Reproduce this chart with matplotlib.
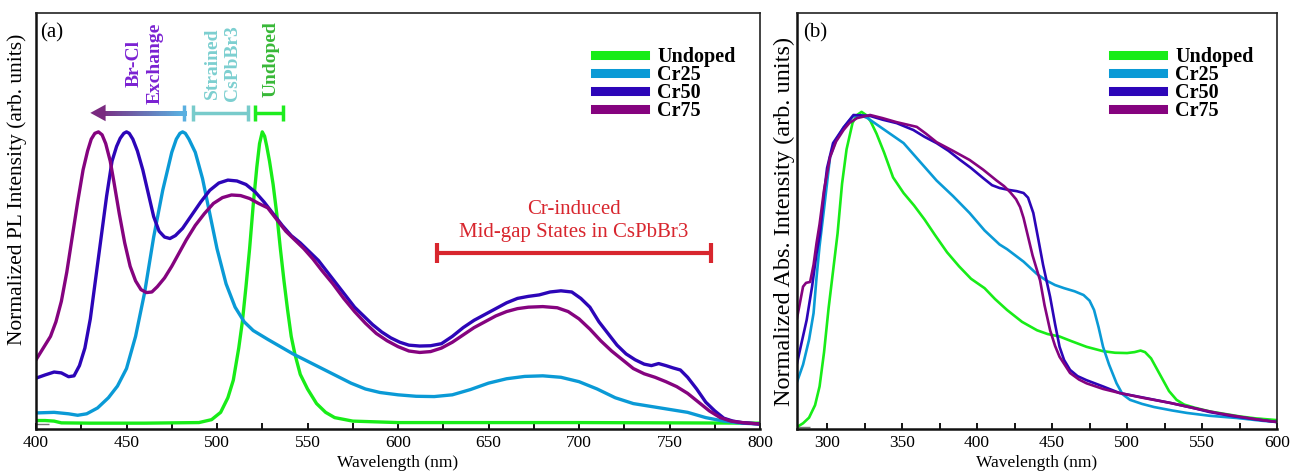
import numpy as np
import matplotlib
matplotlib.use("Agg")
import matplotlib.pyplot as plt
from matplotlib.collections import LineCollection
from matplotlib.colors import LinearSegmentedColormap
from matplotlib.ticker import MultipleLocator

plt.rcParams.update({
    "font.family": "serif",
    "font.serif": ["Liberation Serif", "DejaVu Serif"],
    "font.size": 12.5,
    "xtick.direction": "in",
    "ytick.direction": "in",
})

labels = ["Undoped", "Cr25", "Cr50", "Cr75"]
colors = ["#18EC18", "#0A9AD6", "#2C05B8", "#85037F"]

# ---- (a) PL spectra ----
pl_undoped_x = [400, 405, 410, 414, 430, 460, 490, 497, 502, 506, 509, 512, 514, 516, 518, 520, 522, 523.5,
                525, 526.3, 527.5, 529, 531, 533, 535, 537, 539, 541, 543, 546, 550, 555, 560, 565, 575, 600,
                650, 700, 750, 800]
pl_undoped_y = [0.012, 0.012, 0.01, 0.004, 0.003, 0.003, 0.005, 0.015, 0.04, 0.09, 0.15, 0.26, 0.35, 0.47,
                0.60, 0.75, 0.88, 0.96, 1.0, 0.985, 0.95, 0.9, 0.82, 0.72, 0.6, 0.49, 0.39, 0.3, 0.24, 0.17,
                0.12, 0.07, 0.04, 0.022, 0.01, 0.005, 0.005, 0.005, 0.004, 0.003]

pl_cr25_x = [400, 410, 418, 423, 428, 434, 440, 445, 450, 455, 460, 465, 470, 475, 477.5, 479.5, 481,
             482.5, 484.5, 488, 492, 496, 500, 505, 510, 515, 520, 528, 535, 542, 550, 558, 566, 574, 582,
             590, 600, 610, 620, 630, 640, 650, 660, 670, 680, 690, 700, 710, 720, 730, 740, 750, 760, 770,
             780, 790, 800]
pl_cr25_y = [0.038, 0.04, 0.035, 0.03, 0.035, 0.055, 0.09, 0.13, 0.19, 0.3, 0.45, 0.64, 0.8, 0.93, 0.975,
             0.995, 1.0, 0.995, 0.975, 0.93, 0.84, 0.72, 0.6, 0.48, 0.4, 0.35, 0.32, 0.29, 0.265, 0.24, 0.215,
             0.19, 0.165, 0.14, 0.12, 0.108, 0.1, 0.095, 0.094, 0.1, 0.118, 0.14, 0.155, 0.163, 0.165, 0.16,
             0.145, 0.12, 0.09, 0.07, 0.06, 0.05, 0.04, 0.022, 0.01, 0.003, 0.0]

pl_cr50_x = [400, 405, 410, 414, 418, 421, 424, 427, 430, 433, 436, 439, 442, 444.5, 446.5, 448.5, 450,
             451.5, 453.5, 456, 459, 462, 465, 468, 471, 474, 477, 481, 486, 491, 496, 501, 506, 511, 516,
             521, 526, 531, 536, 541, 546, 551, 556, 561, 566, 571, 576, 581, 586, 591, 596, 601, 606, 612,
             618, 624, 630, 636, 642, 648, 654, 660, 666, 672, 678, 684, 690, 696, 701, 706, 711, 716, 721,
             726, 731, 736, 740, 744, 748, 752, 756, 760, 765, 770, 775, 780, 785, 790, 800]
pl_cr50_y = [0.157, 0.168, 0.178, 0.175, 0.162, 0.165, 0.2, 0.26, 0.36, 0.5, 0.64, 0.78, 0.9, 0.95, 0.978,
             0.995, 1.0, 0.995, 0.975, 0.935, 0.87, 0.79, 0.71, 0.66, 0.64, 0.635, 0.645, 0.67, 0.715, 0.76,
             0.8, 0.825, 0.835, 0.832, 0.82, 0.795, 0.76, 0.72, 0.68, 0.645, 0.62, 0.59, 0.56, 0.52, 0.48,
             0.44, 0.4, 0.37, 0.34, 0.315, 0.295, 0.28, 0.27, 0.267, 0.268, 0.275, 0.3, 0.33, 0.355, 0.375,
             0.395, 0.415, 0.43, 0.437, 0.442, 0.452, 0.456, 0.452, 0.43, 0.4, 0.35, 0.31, 0.27, 0.24, 0.22,
             0.205, 0.2, 0.207, 0.2, 0.192, 0.185, 0.16, 0.12, 0.075, 0.045, 0.02, 0.01, 0.005, 0.0]

pl_cr75_x = [400, 404, 408, 411, 414, 417, 420, 423, 426, 428.5, 430.5, 432.5, 434.5, 436.5, 438.5, 441,
             443, 446, 449, 452, 455, 458, 461, 464, 467, 471, 475, 479, 483, 488, 493, 498, 503, 508, 513,
             518, 523, 528, 533, 538, 543, 548, 553, 558, 564, 570, 576, 582, 588, 594, 600, 606, 612, 618,
             624, 630, 636, 642, 648, 654, 660, 666, 672, 680, 688, 694, 700, 706, 712, 718, 724, 730, 736,
             742, 748, 754, 760, 766, 772, 778, 784, 790, 800]
pl_cr75_y = [0.22, 0.26, 0.3, 0.35, 0.42, 0.52, 0.64, 0.76, 0.87, 0.935, 0.975, 0.995, 1.0, 0.99, 0.96, 0.9,
             0.83, 0.72, 0.62, 0.54, 0.49, 0.46, 0.45, 0.452, 0.47, 0.5, 0.54, 0.585, 0.63, 0.68, 0.72, 0.755,
             0.775, 0.784, 0.782, 0.772, 0.755, 0.74, 0.7, 0.66, 0.63, 0.6, 0.565, 0.525, 0.48, 0.43, 0.385,
             0.345, 0.31, 0.285, 0.265, 0.25, 0.245, 0.248, 0.26, 0.28, 0.305, 0.33, 0.35, 0.37, 0.385,
             0.395, 0.4, 0.402, 0.398, 0.385, 0.36, 0.325, 0.285, 0.25, 0.22, 0.19, 0.172, 0.16, 0.145,
             0.128, 0.105, 0.075, 0.045, 0.022, 0.01, 0.005, 0.0]

# ---- (b) absorption spectra ----
abs_undoped_x = [280, 284, 288, 292, 295, 298, 301, 304, 307, 310, 313, 317, 320, 323, 326, 329, 333, 338,
                 344, 351, 358, 365, 372, 380, 388, 396, 405, 412, 420, 430, 440, 447, 455, 463, 473, 484,
                 492, 500, 505, 509, 512, 516, 520, 524, 528, 533, 538, 545, 555, 565, 575, 585, 600]
abs_undoped_y = [0.0, 0.012, 0.03, 0.07, 0.13, 0.24, 0.38, 0.5, 0.62, 0.78, 0.89, 0.975, 1.0, 1.01, 1.0,
                 0.98, 0.94, 0.88, 0.8, 0.75, 0.71, 0.665, 0.615, 0.56, 0.515, 0.475, 0.445, 0.41, 0.375,
                 0.337, 0.31, 0.298, 0.29, 0.275, 0.257, 0.243, 0.238, 0.237, 0.24, 0.245, 0.24, 0.22, 0.185,
                 0.15, 0.115, 0.087, 0.072, 0.062, 0.05, 0.042, 0.034, 0.028, 0.022]

abs_cr25_x = [280, 284, 288, 291, 293, 295, 298, 302, 306, 311, 317, 322, 327, 333, 342, 351, 362, 373, 384,
              395, 405, 415, 420, 431, 440, 446, 452, 458, 465, 471, 475, 478, 481, 484, 488, 493, 497, 502,
              510, 518, 530, 540, 555, 573, 590, 600]
abs_cr25_y = [0.145, 0.2, 0.28, 0.365, 0.48, 0.58, 0.7, 0.865, 0.92, 0.96, 0.995, 1.0, 0.99, 0.97, 0.94,
              0.91, 0.85, 0.79, 0.74, 0.686, 0.63, 0.585, 0.57, 0.53, 0.49, 0.47, 0.455, 0.445, 0.435, 0.423,
              0.405, 0.375, 0.32, 0.257, 0.2, 0.14, 0.105, 0.087, 0.074, 0.064, 0.053, 0.045, 0.036, 0.029,
              0.02, 0.016]

abs_cr50_x = [280, 283, 286.4, 290, 293, 295.3, 298, 300, 304, 311, 317.6, 328.7, 337, 346.4, 357.5, 365,
              373, 381, 388.7, 396, 404, 410, 415, 421, 426.4, 431, 434, 437.5, 440.9, 444, 448.7, 452, 455,
              458, 462, 467, 473, 484, 495, 510, 529, 545, 555, 570, 585, 600]
abs_cr50_y = [0.205, 0.27, 0.343, 0.45, 0.557, 0.62, 0.75, 0.83, 0.91, 0.96, 1.0, 0.997, 0.985, 0.974, 0.952,
              0.93, 0.91, 0.885, 0.856, 0.83, 0.798, 0.775, 0.766, 0.76, 0.756, 0.75, 0.735, 0.686, 0.6, 0.52,
              0.417, 0.33, 0.257, 0.215, 0.183, 0.163, 0.15, 0.13, 0.109, 0.095, 0.077, 0.06, 0.048, 0.035,
              0.025, 0.016]

abs_cr75_x = [280, 282, 284, 286, 288.7, 291, 293, 295, 298, 302, 306, 311, 315, 320, 328.7, 337, 346.4,
              359.8, 366, 373, 384, 395, 404, 413, 418, 422, 426, 428.7, 431, 433, 437, 442, 445, 448.7, 452,
              455, 462, 468, 473, 484, 495, 510, 529, 545, 560, 575, 590, 600]
abs_cr75_y = [0.35, 0.4, 0.45, 0.462, 0.465, 0.52, 0.59, 0.65, 0.76, 0.865, 0.915, 0.952, 0.975, 0.99, 1.0,
              0.99, 0.977, 0.962, 0.94, 0.913, 0.885, 0.856, 0.825, 0.79, 0.772, 0.753, 0.73, 0.705, 0.67,
              0.63, 0.55, 0.47, 0.39, 0.31, 0.26, 0.225, 0.173, 0.152, 0.14, 0.122, 0.109, 0.094, 0.077, 0.06,
              0.045, 0.033, 0.022, 0.016]

pl_series = [(pl_undoped_x, pl_undoped_y), (pl_cr25_x, pl_cr25_y),
             (pl_cr50_x, pl_cr50_y), (pl_cr75_x, pl_cr75_y)]
abs_series = [(abs_undoped_x, abs_undoped_y), (abs_cr25_x, abs_cr25_y),
              (abs_cr50_x, abs_cr50_y), (abs_cr75_x, abs_cr75_y)]

# bracket annotations on the PL panel (nm ranges)
shift_arrow = (430, 482)
strained_range = (487, 517)
undoped_range = (521, 536.5)
midgap_range = (621.5, 773)
bracket_y = 1.065
midgap_y = 0.586

fig = plt.figure(figsize=(12.91, 4.72), dpi=100)
ax1 = fig.add_axes([0.0279, 0.0911, 0.5608, 0.8814])
ax2 = fig.add_axes([0.6174, 0.0911, 0.3718, 0.8814])


def style_axes(ax):
    for side in ["top", "right"]:
        ax.spines[side].set_linewidth(1.2)
        ax.spines[side].set_color("#222222")
    for side in ["left", "bottom"]:
        ax.spines[side].set_linewidth(1.8)
        ax.spines[side].set_color("#111111")
    ax.xaxis.set_major_locator(MultipleLocator(50))
    ax.xaxis.set_minor_locator(MultipleLocator(25))
    ax.tick_params(axis="x", which="both", length=4.5, width=1.3, pad=4, labelsize=12.5)
    ax.set_yticks([0])
    ax.set_yticklabels([])
    ax.tick_params(axis="y", length=9, width=1.0, colors="#777777")
    ax.set_xlabel("Wavelength (nm)", fontsize=12.5, labelpad=3)


# ---- panel (a) ----
for (x, y), c, lab in zip(pl_series, colors, labels):
    ax1.plot(x, y, color=c, lw=2.4, label=lab, solid_joinstyle="round")
ax1.set_xlim(400, 800)
ax1.set_ylim(-0.017, 1.407)
style_axes(ax1)
ax1.set_ylabel("Normalized PL Intensity (arb. units)", fontsize=15.5)
ax1.yaxis.set_label_coords(-0.012, 0.575)

ax1.text(0.006, 0.975, "(a)", transform=ax1.transAxes, fontsize=15, va="top", ha="left")

# gradient arrow for the Br-Cl exchange shift
grad = LinearSegmentedColormap.from_list("shift", ["#7A2A80", "#5AAFE0"])
xs = np.linspace(shift_arrow[0] + 6, shift_arrow[1], 80)
segs = [[(xs[i], bracket_y), (xs[i + 1], bracket_y)] for i in range(len(xs) - 1)]
lc = LineCollection(segs, colors=grad(np.linspace(0, 1, len(segs))), linewidths=3.5,
                    capstyle="projecting", antialiased=False)
ax1.add_collection(lc)
ax1.annotate("", xy=(shift_arrow[0], bracket_y), xytext=(shift_arrow[0] + 8, bracket_y),
             arrowprops=dict(arrowstyle="-|>,head_length=0.55,head_width=0.3", mutation_scale=20,
                             color="#7A2A80", lw=0, shrinkA=0, shrinkB=0))
ax1.plot([shift_arrow[1]] * 2, [bracket_y - 0.028, bracket_y + 0.028], color="#5AAFE0", lw=2.5,
         solid_capstyle="butt")


def bracket(ax, lo, hi, y, color, lw, cap):
    ax.errorbar((lo + hi) / 2, y, xerr=(hi - lo) / 2, color=color, elinewidth=lw,
                capsize=cap, capthick=lw, fmt="none")


bracket(ax1, *strained_range, bracket_y, "#78CBCB", 2.5, 6)
bracket(ax1, *undoped_range, bracket_y, "#1EEC1E", 2.5, 6)
bracket(ax1, *midgap_range, midgap_y, "#D8262E", 3.0, 7)

ax1.text(460, 1.236, "Br-Cl\nExchange", rotation=90, ha="center", va="center",
         multialignment="center", color="#7B22D2", fontsize=14, fontweight="bold", linespacing=1.25)
ax1.text(503, 1.236, "Strained\nCsPbBr3", rotation=90, ha="center", va="center",
         multialignment="center", color="#7CCFD0", fontsize=14, fontweight="bold", linespacing=1.25)
ax1.text(530, 1.25, "Undoped", rotation=90, ha="center", va="center",
         color="#38B838", fontsize=14, fontweight="bold")
ax1.text(697, 0.695, "Cr-induced\nMid-gap States in CsPbBr3", ha="center", va="center",
         multialignment="center", color="#D8262E", fontsize=15, linespacing=1.25)

leg_kw = dict(loc="upper left", frameon=False, borderpad=0, borderaxespad=0, handlelength=2.5,
              handletextpad=0.6, labelspacing=-0.1, prop={"weight": "bold", "size": 14.5})
leg1 = ax1.legend(bbox_to_anchor=(0.772, 0.918), **leg_kw)
for h in leg1.get_lines():
    h.set_linewidth(6.5)

# ---- panel (b) ----
for (x, y), c, lab in zip(abs_series, colors, labels):
    ax2.plot(x, y, color=c, lw=1.9, label=lab, solid_joinstyle="round")
ax2.set_xlim(280, 600)
ax2.set_ylim(-0.0064, 1.327)
style_axes(ax2)
ax2.set_ylabel("Normalized Abs. Intensity (arb. units)", fontsize=17.5)
ax2.yaxis.set_label_coords(-0.004, 0.5)
ax2.text(0.012, 0.975, "(b)", transform=ax2.transAxes, fontsize=15, va="top", ha="left")

leg2 = ax2.legend(bbox_to_anchor=(0.658, 0.918), **leg_kw)
for h in leg2.get_lines():
    h.set_linewidth(6.5)

fig.savefig("out.png", dpi=100)
